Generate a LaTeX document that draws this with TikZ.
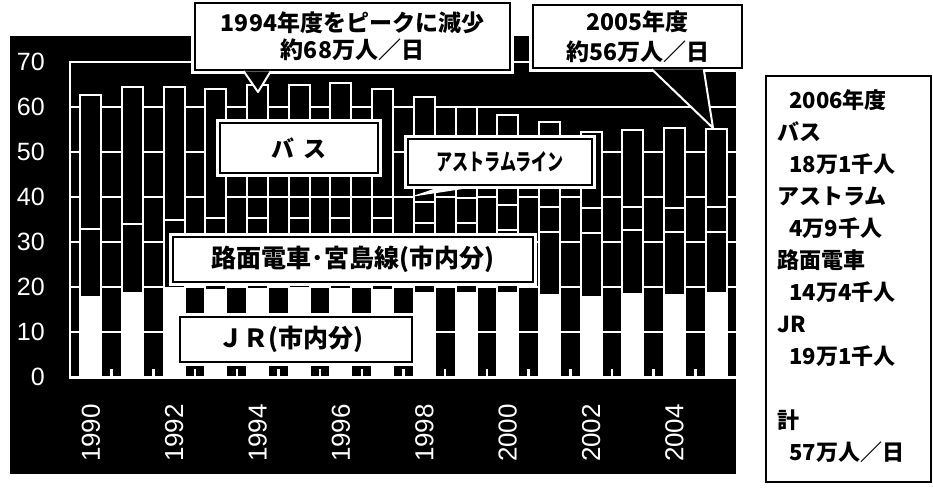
\documentclass[tikz,border=0pt]{standalone}
\usepackage{fontspec}
\setmainfont{Liberation Sans}
\newfontfamily\jp{Noto Sans CJK JP}

\begin{document}
\begin{tikzpicture}[x=1pt,y=-1pt,
    grid/.style={white,line width=1.5pt},
    seg/.style={draw=white,line width=2pt,fill=black},
    jrseg/.style={draw=white,line width=2pt,fill=white},
    lbl/.style={fill=white,draw=black,line width=2.5pt,
      preaction={draw=white,line width=8pt},inner sep=0pt,align=center},
    tip/.style={draw=white,line width=2pt,line join=round}]
  \tikzstyle{every node}=[text=black]
  \useasboundingbox (0,0) rectangle (933,491);
  \fill[black] (10,36) rectangle (736,474);

  % grid and frame
  \foreach \v in {10,20,...,60}
    \draw[grid] (70,{377-4.5*\v}) -- (736,{377-4.5*\v});
  \draw[white,line width=2pt] (736,62) -- (70,62) -- (70,377);

  % bars: JR / tram / astram / total
  \foreach \j/\r/\a/\t [count=\i from 0] in {17.8/33.0/33.0/62.7,
      18.6/34.0/34.0/64.4, 19.8/35.0/35.0/64.4, 19.3/35.4/35.4/64.0,
      19.5/35.3/40.0/65.0, 19.8/35.3/40.0/65.0, 19.5/35.3/40.0/65.3,
      19.3/35.3/40.0/64.0, 18.7/34.2/39.0/62.3, 18.7/34.3/39.8/60.1,
      18.7/32.7/38.2/58.2, 18.2/32.2/37.8/56.6, 17.8/32.0/37.5/54.5,
      18.5/32.7/37.8/54.9, 18.2/32.3/37.5/55.3, 18.7/32.2/37.8/55.1} {
    \pgfmathsetmacro\xl{90.8+41.69*\i-10.5}
    \pgfmathsetmacro\xr{\xl+21}
    \draw[jrseg] (\xl,377) rectangle (\xr,{377-4.5*\j});
    \draw[seg] (\xl,{377-4.5*\j}) rectangle (\xr,{377-4.5*\r});
    \draw[seg] (\xl,{377-4.5*\r}) rectangle (\xr,{377-4.5*\a});
    \draw[seg] (\xl,{377-4.5*\a}) rectangle (\xr,{377-4.5*\t});
  }
  \foreach \k in {1,...,15}
    \draw[white,line width=2.5pt] ({70+41.69*\k},377) -- ++(0,-8);
  \draw[white,line width=3pt] (69,377) -- (736,377);

  % axes labels
  \foreach \v in {0,10,...,70}
    \node[anchor=east,inner sep=0pt,text=white,font=\fontsize{25}{25}\selectfont]
      (y\v) at (45,{377-4.5*\v}) {\v};
  \foreach \i in {0,2,...,14} {
    \pgfmathtruncatemacro\yr{1990+\i}
    \node[rotate=90,inner sep=0pt,text=white,font=\fontsize{26}{26}\selectfont]
      (yr\yr) at ({90.8+41.69*\i},433) {\yr};
  }

  % series labels
  \node[lbl,minimum width=158pt,minimum height=50pt,
    font=\jp\bfseries\fontsize{23}{23}\selectfont] (bus) at (299,148) {バ\kern9pt ス};
  \node[lbl,minimum width=184pt,minimum height=46pt,
    font=\jp\bfseries\fontsize{23}{23}\selectfont] (astram) at (500,162)
    {\scalebox{0.7}[1]{アストラムライン}};
  \node[lbl,minimum width=360pt,minimum height=45pt,
    font=\jp\bfseries\fontsize{25}{25}\selectfont] (tram) at (353,259.5)
    {路面電車･宮島線(市内分)};
  \node[lbl,minimum width=232pt,minimum height=45pt,
    font=\jp\bfseries\fontsize{25}{25}\selectfont] (jr) at (296,339.5)
    {ＪＲ(市内分)\kern10pt};
  \coordinate (pA) at (410,197);
  \fill[white] ([xshift=35pt]astram.south west) -- (pA)
    -- ([xshift=74pt]astram.south west) -- cycle;

  % callouts
  \node[lbl,minimum width=315pt,minimum height=67pt,
    font=\jp\bfseries\fontsize{23}{27}\selectfont] (c94) at (352.5,36.5)
    {1994年度をピークに減少\\約68万人／日};
  \node[lbl,minimum width=209pt,minimum height=63pt,
    font=\jp\bfseries\fontsize{23}{30}\selectfont] (c05) at (637.5,36.5)
    {2005年度\\約56万人／日};
  \coordinate (p94) at (258,92);
  \coordinate (p05) at (713,128);
  \fill[black] ([xshift=50pt]c94.south west) -- (p94)
    -- ([xshift=77pt]c94.south west) -- cycle;
  \draw[tip] ([xshift=50pt]c94.south west) -- (p94)
    -- ([xshift=77pt]c94.south west);
  \fill[black] ([xshift=120pt]c05.south west) -- (p05)
    -- ([xshift=172pt]c05.south west) -- cycle;
  \draw[tip] ([xshift=120pt]c05.south west) -- (p05)
    -- ([xshift=172pt]c05.south west);

  % 2006 box
  \node[draw=black,line width=2pt,minimum width=165pt,minimum height=406pt,
    anchor=north west] (legend) at (765,75) {};
  \foreach \x/\y/\s [count=\n] in {789/100/2006年度, 777/132/バス,
      789/164/18万1千人, 777/196/アストラム, 789/228/4万9千人,
      777/260/路面電車, 789/292/14万4千人, 777/324/JR, 789/356/19万1千人,
      777/420/計, 789/452/57万人／日}
    \node[anchor=west,inner sep=0pt,font=\jp\bfseries\fontsize{22}{22}\selectfont]
      (l\n) at (\x,\y) {\s};
\end{tikzpicture}
\end{document}
